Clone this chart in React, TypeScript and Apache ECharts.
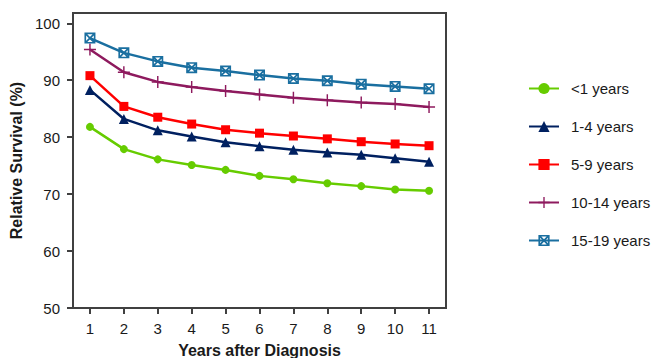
import React, { useEffect, useRef } from "react";
import * as echarts from "echarts";

const years = ["1", "2", "3", "4", "5", "6", "7", "8", "9", "10", "11"];
const seriesNames = ["<1 years", "1-4 years", "5-9 years", "10-14 years", "15-19 years"];
const lt1 = [81.8, 77.9, 76.1, 75.1, 74.25, 73.2, 72.6, 71.9, 71.4, 70.8, 70.6];
const y1to4 = [88.3, 83.2, 81.2, 80.1, 79.1, 78.4, 77.8, 77.3, 76.9, 76.3, 75.7];
const y5to9 = [90.8, 85.4, 83.5, 82.3, 81.3, 80.7, 80.2, 79.7, 79.2, 78.8, 78.5];
const y10to14 = [95.4, 91.4, 89.7, 88.8, 88.1, 87.5, 86.9, 86.5, 86.1, 85.8, 85.3];
const y15to19 = [97.4, 94.8, 93.3, 92.2, 91.6, 90.9, 90.3, 89.9, 89.3, 88.9, 88.5];
const yTicks = [50, 60, 70, 80, 90, 100];

const colors = ["#66CC00", "#002060", "#FF0000", "#8E1A5E", "#1A6FA0"];

const plusPath =
  "path://M4.4 0 L5.6 0 L5.6 4.4 L10 4.4 L10 5.6 L5.6 5.6 L5.6 10 L4.4 10 L4.4 5.6 L0 5.6 L0 4.4 L4.4 4.4 Z";
const boxXPath =
  "path://M0 0 L10 0 L10 10 L0 10 Z M1.5 1.5 L1.5 8.5 L8.5 8.5 L8.5 1.5 Z " +
  "M1.5 1.5 L2.6 1.5 L8.5 7.4 L8.5 8.5 L7.4 8.5 L1.5 2.6 Z " +
  "M8.5 1.5 L8.5 2.6 L2.6 8.5 L1.5 8.5 L1.5 7.4 L7.4 1.5 Z";

const symbols = ["circle", "triangle", "rect", plusPath, boxXPath];
const symbolSizes = [8, 10, 9, 12, 11];
const dataSets = [lt1, y1to4, y5to9, y10to14, y15to19];

export default function App() {
  const ref = useRef<HTMLDivElement>(null);
  useEffect(() => {
    if (!ref.current) return;
    const chart = echarts.init(ref.current, null, { renderer: "svg" });
    const font = "'Liberation Sans', Arial, sans-serif";
    chart.setOption({
      animation: false,
      textStyle: { fontFamily: font },
      grid: {
        left: 73,
        right: 210,
        top: 13,
        bottom: 50,
        containLabel: false,
        outerBoundsMode: "none",
        show: true,
        borderColor: "#404040",
        borderWidth: 2,
        backgroundColor: "#fff",
      },
      legend: {
        orient: "vertical",
        left: 523,
        top: 76,
        itemWidth: 30,
        itemHeight: 14,
        itemGap: 23,
        textStyle: { fontSize: 15, color: "#1a1a1a", fontFamily: font, padding: [0, 0, 0, 7] },
        data: seriesNames,
      },
      xAxis: {
        type: "category",
        data: years,
        boundaryGap: true,
        name: "Years after Diagnosis",
        nameLocation: "middle",
        nameGap: 34,
        nameTextStyle: { fontSize: 16, fontWeight: "bold", color: "#1a1a1a", fontFamily: font },
        axisLine: { show: true, lineStyle: { color: "#404040", width: 2 } },
        axisTick: { show: true, alignWithLabel: true, length: 6, lineStyle: { color: "#404040", width: 2 } },
        axisLabel: { fontSize: 15, color: "#1a1a1a", margin: 13, fontFamily: font },
        splitLine: { show: false },
      },
      yAxis: {
        type: "value",
        min: 50,
        max: 101.8,
        name: "Relative Survival (%)",
        nameLocation: "middle",
        nameGap: 47,
        nameTextStyle: { fontSize: 16, fontWeight: "bold", color: "#1a1a1a", fontFamily: font },
        axisLine: { show: true, lineStyle: { color: "#404040", width: 2 } },
        axisTick: { show: true, length: 6, customValues: yTicks, lineStyle: { color: "#404040", width: 2 } },
        axisLabel: { fontSize: 15, color: "#1a1a1a", margin: 13, customValues: yTicks, fontFamily: font },
        splitLine: { show: false },
      },
      series: dataSets.map((d, i) => ({
        name: seriesNames[i],
        type: "line",
        data: d,
        symbol: symbols[i],
        symbolSize: symbolSizes[i],
        showAllSymbol: true,
        lineStyle: { color: colors[i], width: 2.5 },
        itemStyle: { color: colors[i] },
        z: 2 + i,
      })),
    });
    return () => chart.dispose();
  }, []);
  return <div ref={ref} style={{ width: 656, height: 358, position: "absolute", left: 0, top: 0 }} />;
}
